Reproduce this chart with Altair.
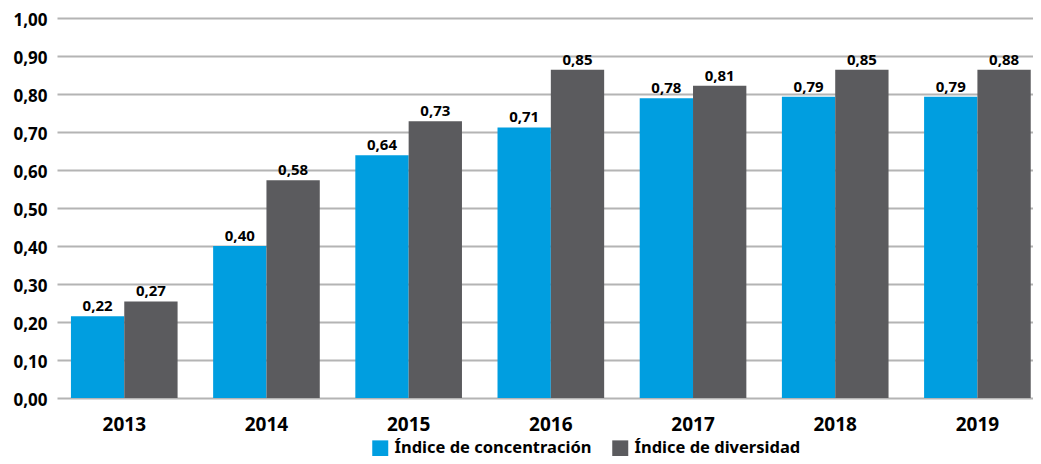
import altair as alt
import pandas as pd

years = ["2013", "2014", "2015", "2016", "2017", "2018", "2019"]
series = ["Índice de concentración", "Índice de diversidad"]
conc_values = [0.215, 0.400, 0.639, 0.712, 0.789, 0.793, 0.793]
div_values = [0.254, 0.573, 0.728, 0.864, 0.822, 0.864, 0.864]
conc_labels = ["0,22", "0,40", "0,64", "0,71", "0,78", "0,79", "0,79"]
div_labels = ["0,27", "0,58", "0,73", "0,85", "0,81", "0,85", "0,88"]
y_ticks = [0.0, 0.1, 0.2, 0.3, 0.4, 0.5, 0.6, 0.7, 0.8, 0.9, 1.0]
colors = ["#009EE0", "#5B5B5E"]

rows = []
for i, y in enumerate(years):
    rows.append({"year": y, "serie": series[0], "value": conc_values[i], "label": conc_labels[i]})
    rows.append({"year": y, "serie": series[1], "value": div_values[i], "label": div_labels[i]})
df = pd.DataFrame(rows)

FONT = "Noto Sans"

x = alt.X("year:N", sort=years, title=None,
          scale=alt.Scale(paddingInner=0.25, paddingOuter=0.057, align=0.86),
          axis=alt.Axis(labelAngle=0, labelFontSize=19, labelFontWeight="bold",
                        labelColor="#000000", labelFont=FONT, domain=False, ticks=False,
                        labelPadding=17))
xoff = alt.XOffset("serie:N", sort=series, scale=alt.Scale(paddingInner=0, paddingOuter=0))
y = alt.Y("value:Q", title=None,
          scale=alt.Scale(domain=[0, 1]),
          axis=alt.Axis(values=y_ticks, labelOverlap=False,
                        labelExpr="replace(format(datum.value, '.2f'), '.', ',')",
                        labelFontSize=17, labelFontWeight="bold", labelColor="#000000",
                        labelFont=FONT, domain=False, ticks=False, labelPadding=10,
                        labelOffset=2,
                        grid=True, gridColor="#B4B4B4", gridWidth=2))

bars = alt.Chart(df).mark_bar().encode(
    x=x, xOffset=xoff, y=y,
    color=alt.Color("serie:N", sort=series,
                    scale=alt.Scale(domain=series, range=colors),
                    legend=alt.Legend(title=None, orient="none", direction="horizontal",
                                      legendX=315, legendY=422, padding=0,
                                      symbolType="square", symbolSize=256,
                                      symbolStrokeWidth=0, labelLimit=0,
                                      labelFontSize=16.5, labelFontWeight="bold",
                                      labelFont=FONT, labelColor="#000000",
                                      labelOffset=6, columnPadding=20)),
)

texts = alt.Chart(df).mark_text(baseline="alphabetic", dy=-5, fontSize=15,
                                fontWeight="bold", font=FONT, color="#000000").encode(
    x=x, xOffset=xoff, y=y, text="label:N",
)

chart = alt.layer(bars, texts).properties(
    width=976, height=380,
    padding={"left": 49, "top": 10, "right": 0, "bottom": 58},
    autosize=alt.AutoSizeParams(type="none"),
).configure_view(stroke=None)

chart.save("out.html", embed_options={"renderer": "svg", "actions": False})
